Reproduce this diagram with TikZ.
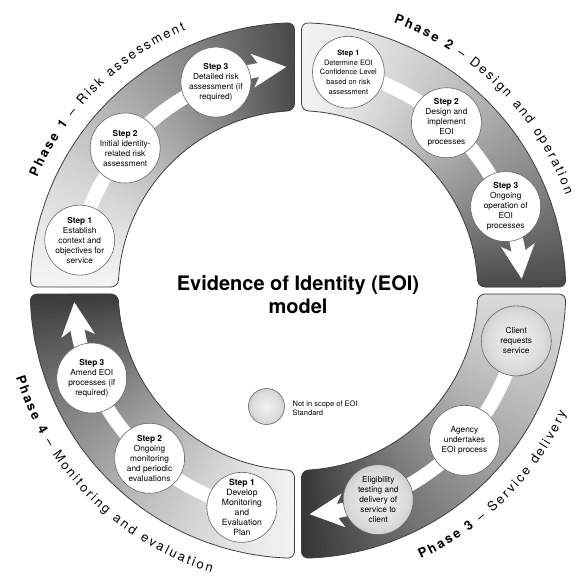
\documentclass[tikz,border=0pt]{standalone}
\usepackage{fontspec}
\setmainfont{TeX Gyre Heros}
\usetikzlibrary{decorations.text}

\pgfdeclareradialshading{rimwhite}{\pgfpoint{0bp}{0bp}}{color(0bp)=(white); color(38bp)=(white); color(50bp)=(black!20); color(100bp)=(black!20)}
\pgfdeclareradialshading{greyball}{\pgfpoint{0bp}{0bp}}{color(0bp)=(black!5); color(20bp)=(black!14); color(50bp)=(black!42); color(100bp)=(black!42)}

\newcommand\segpath[1]{(#1+45:268pt) \foreach \i in {10,...,17}{ -- (#1+0.75+4.9167*\i:268pt)} -- (#1+89.25:268pt) -- (#1+88.89:180pt) \foreach \i in {17,...,1}{ -- (#1+1.11+4.8767*\i:180pt)} -- (#1+1.11:180pt) -- (#1+0.75:268pt) \foreach \i in {1,...,8}{ -- (#1+0.75+4.9167*\i:268pt)} -- cycle}

\newcommand\phaseseg[3]{%
  \begin{scope}
    \clip[rounded corners=7pt] \segpath{#1};
    \foreach \a in {0,...,89}{%
      \pgfmathsetmacro\gradpct{#2+(#3-#2)*((\a+0.5)/90)^1.4}
      \fill[black!\gradpct] (0,0) -- (#1+90.3-\a:300pt) -- (#1+88.7-\a:300pt) -- cycle;
    }
  \end{scope}
  \draw[segline, rounded corners=7pt] \segpath{#1};
}

\newcommand\bandarrow[2]{% start angle, tip angle
  \draw[band] (#1:224pt) arc[start angle=#1, end angle=#2+5.5, radius=224pt];
  \begin{scope}[shift={(#2:224pt)}, rotate=#2-86.5]
    \fill[white] (0,0) -- (-34pt,17pt) -- (-24pt,0pt) -- (-34pt,-17pt) -- cycle;
  \end{scope}
}

\newcommand\ls{\kern2.2pt}
\newcommand\phb{\fontsize{13}{15}\selectfont\bfseries}
\newcommand\phr{\fontsize{13}{15}\selectfont\mdseries}

\tikzset{
  segline/.style={draw=black!75, line width=0.8pt},
  band/.style={draw=white, line width=14pt},
  stepnode/.style={circle, draw=black!60, line width=0.6pt, minimum size=70pt, inner sep=0pt,
    shading=rimwhite, align=center, font=\fontsize{8.3}{10}\selectfont},
  outnode/.style={stepnode, shading=greyball},
  titletext/.style={font=\fontsize{20}{24}\selectfont\bfseries, anchor=base, inner sep=0pt},
  legendtext/.style={font=\fontsize{7.5}{9}\selectfont, align=left, anchor=west, inner sep=0pt},
}

\begin{document}
\begin{tikzpicture}[x=1pt,y=1pt]
\useasboundingbox[fill=white] (-298,-291.5) rectangle (280,290.5);

% segments with angular gradient
\phaseseg{90}{4}{72}
\phaseseg{0}{5}{72}
\phaseseg{-90}{15}{80}
\phaseseg{180}{5}{78}

% white flow arrows
\bandarrow{167}{93}
\bandarrow{77}{3}
\bandarrow{-13}{-87}
\bandarrow{255.5}{183}

% Phase 1 steps
\node[stepnode] (p1s1) at (167:224pt) {\textbf{Step 1}\\Establish\\context and\\objectives for\\service};
\node[stepnode] (p1s2) at (140.5:224pt) {\textbf{Step 2}\\Initial identity-\\related risk\\assessment};
\node[stepnode] (p1s3) at (111.5:224pt) {\textbf{Step 3}\\Detailed risk\\assessment (if\\required)};

% Phase 2 steps
\node[stepnode, font=\fontsize{7.4}{9.6}\selectfont] (p2s1) at (77:224pt) {\textbf{Step 1}\\Determine EOI\\Confidence Level\\based on risk\\assessment};
\node[stepnode] (p2s2) at (48.5:224pt) {\textbf{Step 2}\\Design and\\implement\\EOI\\processes};
\node[stepnode] (p2s3) at (22:224pt) {\textbf{Step 3}\\Ongoing\\operation of\\EOI\\processes};

% Phase 3
\node[outnode] (p3a) at (-13:224pt) {Client\\requests\\service};
\node[stepnode] (p3b) at (-42:224pt) {Agency\\undertakes\\EOI process};
\node[outnode] (p3c) at (-69:224pt) {Eligibility\\testing and\\delivery of\\service to\\client};

% Phase 4 steps
\node[stepnode, font=\fontsize{8.6}{10}\selectfont] (p4s1) at (255.5:224pt) {\textbf{Step 1}\\Develop\\Monitoring\\and\\Evaluation\\Plan};
\node[stepnode] (p4s2) at (228.5:224pt) {\textbf{Step 2}\\Ongoing\\monitoring\\and periodic\\evaluations};
\node[stepnode] (p4s3) at (203:224pt) {\textbf{Step 3}\\Amend EOI\\processes (if\\required)};

% phase labels
\path[decorate, decoration={text along path, text align=center,
  text={|\phb|{P\ls}{h\ls}{a\ls}{s\ls}{e\ls}{\ \ls}{1\ls}{\ \ls}|\phr|{–\ls}{\ \ls}{R\ls}{i\ls}{s\ls}{k\ls}{\ \ls}{a\ls}{s\ls}{s\ls}{e\ls}{s\ls}{s\ls}{m\ls}{e\ls}{n\ls}{t}}}]
  (180:284pt) arc[start angle=180, end angle=90, radius=284pt];
\path[decorate, decoration={text along path, text align=center,
  text={|\phb|{P\ls}{h\ls}{a\ls}{s\ls}{e\ls}{\ \ls}{2\ls}{\ \ls}|\phr|{–\ls}{\ \ls}{D\ls}{e\ls}{s\ls}{i\ls}{g\ls}{n\ls}{\ \ls}{a\ls}{n\ls}{d\ls}{\ \ls}{o\ls}{p\ls}{e\ls}{r\ls}{a\ls}{t\ls}{i\ls}{o\ls}{n}}}]
  (90:284pt) arc[start angle=90, end angle=0, radius=284pt];
\path[decorate, decoration={text along path, text align=center,
  text={|\phb|{P\ls}{h\ls}{a\ls}{s\ls}{e\ls}{\ \ls}{3\ls}{\ \ls}|\phr|{–\ls}{\ \ls}{S\ls}{e\ls}{r\ls}{v\ls}{i\ls}{c\ls}{e\ls}{\ \ls}{d\ls}{e\ls}{l\ls}{i\ls}{v\ls}{e\ls}{r\ls}{y}}}]
  (-90:295pt) arc[start angle=-90, end angle=0, radius=295pt];
\path[decorate, decoration={text along path, text align=center,
  text={|\phb|{P\ls}{h\ls}{a\ls}{s\ls}{e\ls}{\ \ls}{4\ls}{\ \ls}|\phr|{–\ls}{\ \ls}{M\ls}{o\ls}{n\ls}{i\ls}{t\ls}{o\ls}{r\ls}{i\ls}{n\ls}{g\ls}{\ \ls}{a\ls}{n\ls}{d\ls}{\ \ls}{e\ls}{v\ls}{a\ls}{l\ls}{u\ls}{a\ls}{t\ls}{i\ls}{o\ls}{n}}}]
  (180:295pt) arc[start angle=180, end angle=270, radius=295pt];

% title
\node[titletext] (title1) at (0,0) {Evidence of Identity (EOI)};
\node[titletext] (title2) at (0,-22.5) {model};

% legend
\node[circle, draw=black!60, line width=0.6pt, minimum size=36pt, inner sep=0pt, shading=greyball] (legball) at (-31.5,-116) {};
\node[legendtext] (legtext) at (-5.5,-118) {Not in scope of EOI\\Standard};
\end{tikzpicture}
\end{document}
